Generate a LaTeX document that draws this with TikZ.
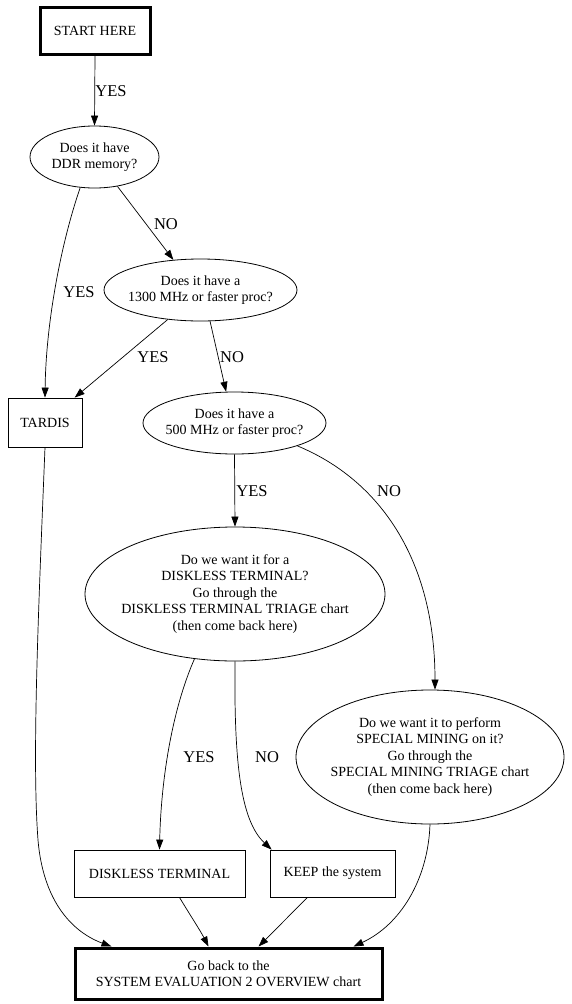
\documentclass[tikz,border=0pt]{standalone}
\usepackage{fontspec}
\setmainfont{Liberation Serif}
\usetikzlibrary{shapes.geometric,arrows.meta,calc}
\begin{document}
\begin{tikzpicture}[x=1pt,y=-1pt,
  every node/.style={font=\fontsize{14}{16.5}\selectfont, align=center, inner sep=0pt},
  ebox/.style={draw, line width=0.8pt, ellipse},
  rbox/.style={draw, line width=0.8pt, rectangle},
  thickbox/.style={draw, line width=3pt, rectangle},
  arr/.style={line width=0.7pt, -{Triangle[length=10pt,width=7pt]}},
  lbl/.style={font=\fontsize{16.5}{18}\selectfont}]
\fill[white] (0,0) rectangle (571,1004);
\useasboundingbox (0,0) rectangle (571,1004);

% nodes
\node[thickbox, minimum width=110, minimum height=47] (start) at (95,30.5) {START HERE};
\node[ebox, minimum width=129, minimum height=62] (ddr) at (94.5,157) {};
\node (ddrt) at (ddr) {Does it have\\DDR memory?};
\node[ebox, minimum width=193, minimum height=62] (p1300) at (200.5,290) {};
\node (p1300t) at (p1300) {Does it have a\\1300 MHz or faster proc?};
\node[rbox, minimum width=74, minimum height=49] (tardis) at (45,422.5) {TARDIS};
\node[ebox, minimum width=183, minimum height=62] (p500) at (234.5,423) {};
\node (p500t) at (p500) {Does it have a\\500 MHz or faster proc?};
\node[ebox, minimum width=300, minimum height=134] (dq) at (235,594) {};
\node (dqt) at (dq) {Do we want it for a\\DISKLESS TERMINAL?\\Go through the\\DISKLESS TERMINAL TRIAGE chart\\(then come back here)};
\node[ebox, minimum width=268, minimum height=134] (sm) at (430,757) {};
\node (smt) at (sm) {Do we want it to perform\\SPECIAL MINING on it?\\Go through the\\SPECIAL MINING TRIAGE chart\\(then come back here)};
\node[rbox, minimum width=171, minimum height=47] (dt) at (159.5,873.5) {DISKLESS TERMINAL};
\node[rbox, minimum width=125, minimum height=47] (keep) at (332.5,873.5) {KEEP the system};
\node[thickbox, minimum width=307, minimum height=51] (final) at (228.5,973.5) {Go back to the\\SYSTEM EVALUATION 2 OVERVIEW chart};

% edges
\draw[arr] (start.south) -- (ddr.north);
\draw[arr] (ddr.-52) -- (p1300.132);
\draw[arr] (ddr.245) .. controls (62,240) and (46,320) .. (tardis.north);
\draw[arr] (p1300.222) -- (tardis.40);
\draw[arr] (p1300.-73) -- (p500.105);
\draw[arr] (tardis.south) .. controls (38,620) and (32,760) .. (38,840)
  .. controls (44,910) and (80,935) .. ($(final.north west)+(38,0)$);
\draw[arr] (p500.south) -- (dq.north);
\draw[arr] (p500.-20) .. controls (380,480) and (435,560) .. ($(sm.north)+(5,0)$);
\draw[arr] (dq.238) .. controls (172,710) and (161,780) .. (dt.north);
\draw[arr] (dq.south) .. controls (234,760) and (240,820) .. ($(keep.north west)+(2,0)$);
\draw[arr] (sm.south) .. controls (428,880) and (400,925) .. ($(final.north east)+(-30,0)$);
\draw[arr] ($(dt.south)+(20,0)$) .. controls (190,915) and (200,930) .. ($(final.north)+(-20,0)$);
\draw[arr] ($(keep.south)+(-25,0)$) .. controls (290,915) and (275,930) .. ($(final.north)+(30,0)$);

% labels
\node[lbl] (l1) at (111,91) {YES};
\node[lbl] (l2) at (166,224) {NO};
\node[lbl] (l3) at (79,292) {YES};
\node[lbl] (l4) at (153,357) {YES};
\node[lbl] (l5) at (232,357) {NO};
\node[lbl] (l6) at (252,491) {YES};
\node[lbl] (l7) at (389,491) {NO};
\node[lbl] (l8) at (199,757) {YES};
\node[lbl] (l9) at (267,757) {NO};
\end{tikzpicture}
\end{document}
